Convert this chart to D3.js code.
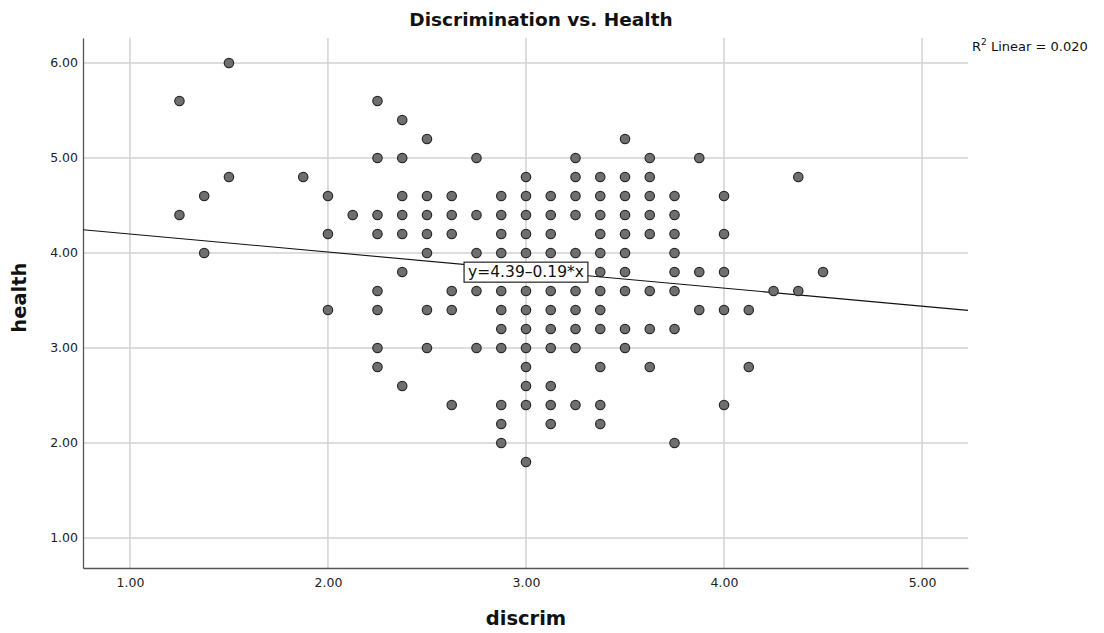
<!DOCTYPE html>
<html>
<head>
<meta charset="utf-8">
<script src="https://cdn.jsdelivr.net/npm/d3@7"></script>
<style>
  body { margin: 0; background: #fff; }
  svg { display: block; font-family: "DejaVu Sans", sans-serif; }
</style>
</head>
<body>
<svg id="chart"></svg>
<script>
// discrim levels (columns) and the health values observed at each
const discrimLevels = [1.25, 1.375, 1.5, 1.875, 2.0, 2.125, 2.25, 2.375, 2.5, 2.625, 2.75, 2.875,
  3.0, 3.125, 3.25, 3.375, 3.5, 3.625, 3.75, 3.875, 4.0, 4.125, 4.25, 4.375, 4.5];
const healthByLevel = [
  [5.6, 4.4],
  [4.6, 4.0],
  [6.0, 4.8],
  [4.8],
  [4.6, 4.2, 3.4],
  [4.4],
  [5.6, 5.0, 4.4, 4.2, 3.6, 3.4, 3.0, 2.8],
  [5.4, 5.0, 4.6, 4.4, 4.2, 3.8, 2.6],
  [5.2, 4.6, 4.4, 4.2, 4.0, 3.4, 3.0],
  [4.6, 4.4, 4.2, 3.6, 3.4, 2.4],
  [5.0, 4.4, 4.0, 3.8, 3.6, 3.0],
  [4.6, 4.4, 4.2, 4.0, 3.8, 3.6, 3.4, 3.2, 3.0, 2.4, 2.2, 2.0],
  [4.8, 4.6, 4.4, 4.2, 4.0, 3.8, 3.6, 3.4, 3.2, 3.0, 2.8, 2.6, 2.4, 1.8],
  [4.6, 4.4, 4.2, 4.0, 3.8, 3.6, 3.4, 3.2, 3.0, 2.6, 2.4, 2.2],
  [5.0, 4.8, 4.6, 4.4, 4.0, 3.8, 3.6, 3.4, 3.2, 3.0, 2.4],
  [4.8, 4.6, 4.4, 4.2, 4.0, 3.8, 3.6, 3.4, 3.2, 2.8, 2.4, 2.2],
  [5.2, 4.8, 4.6, 4.4, 4.2, 4.0, 3.8, 3.6, 3.2, 3.0],
  [5.0, 4.8, 4.6, 4.4, 4.2, 3.6, 3.2, 2.8],
  [4.6, 4.4, 4.2, 4.0, 3.8, 3.6, 3.2, 2.0],
  [5.0, 3.8, 3.4],
  [4.6, 4.2, 3.8, 3.4, 2.4],
  [3.4, 2.8],
  [3.6],
  [4.8, 3.6],
  [3.8]
];

const xTicks = [1, 2, 3, 4, 5];
const yTicks = [1, 2, 3, 4, 5, 6];

const fitIntercept = 4.39,
  fitSlope = -0.19,
  fitLabelAt = 3.0,
  rSquared = '0.020';

const chartTitle = 'Discrimination vs. Health',
  xTitle = 'discrim',
  yTitle = 'health';

const actualWidth = 1104, actualHeight = 633;
const margin = {top: 38, right: 136, bottom: 65, left: 83};
const width = actualWidth - margin.left - margin.right,
  height = actualHeight - margin.top - margin.bottom;

const points = [];
discrimLevels.forEach((d, i) => {
  healthByLevel[i].forEach(h => points.push({x: d, y: h}));
});

const xScale = d3.scaleLinear().domain([0.763, 5.232]).range([0, width]);
const yScale = d3.scaleLinear().domain([0.684, 6.263]).range([height, 0]);

const svg = d3.select('#chart')
  .attr('width', actualWidth)
  .attr('height', actualHeight);

const chart = svg.append('g')
  .attr('transform', `translate(${margin.left}, ${margin.top})`);

// grid lines
chart.append('g')
  .selectAll('line')
  .data(xTicks).enter().append('line')
  .attr('x1', d => xScale(d)).attr('x2', d => xScale(d))
  .attr('y1', 0).attr('y2', height)
  .attr('stroke', '#d2d2d2').attr('stroke-width', 1.5);

chart.append('g')
  .selectAll('line')
  .data(yTicks).enter().append('line')
  .attr('x1', 0).attr('x2', width)
  .attr('y1', d => yScale(d)).attr('y2', d => yScale(d))
  .attr('stroke', '#d2d2d2').attr('stroke-width', 1.5);

// axes
const xAxis = d3.axisBottom(xScale).tickValues(xTicks).tickFormat(d3.format('.2f')).tickSize(0).tickPadding(10);
const yAxis = d3.axisLeft(yScale).tickValues(yTicks).tickFormat(d3.format('.2f')).tickSize(0).tickPadding(5);

const xAxisGroup = chart.append('g')
  .attr('transform', `translate(0, ${height})`)
  .call(xAxis);
const yAxisGroup = chart.append('g').call(yAxis);

[xAxisGroup, yAxisGroup].forEach(g => {
  g.select('.domain').attr('stroke', '#555').attr('stroke-width', 1.3);
  g.selectAll('text').attr('font-size', 12.5).attr('fill', '#222')
    .attr('font-family', '"DejaVu Sans", sans-serif');
});

// fit line
const fit = x => fitIntercept + fitSlope * x;
const [x0, x1] = xScale.domain();
chart.append('line')
  .attr('x1', xScale(x0)).attr('y1', yScale(fit(x0)))
  .attr('x2', xScale(x1)).attr('y2', yScale(fit(x1)))
  .attr('stroke', '#111').attr('stroke-width', 1.1);

// points
chart.append('g')
  .selectAll('circle')
  .data(points).enter().append('circle')
  .attr('cx', d => xScale(d.x))
  .attr('cy', d => yScale(d.y))
  .attr('r', 4.7)
  .attr('fill', '#6f6f6f')
  .attr('stroke', '#2a2a2a')
  .attr('stroke-width', 1.2);

// fit label
const labelG = chart.append('g')
  .attr('transform', `translate(${xScale(fitLabelAt)}, ${yScale(fit(fitLabelAt)) + 1.5})`);
const labelRect = labelG.append('rect');
const labelText = labelG.append('text')
  .attr('text-anchor', 'middle')
  .attr('dy', '0.36em')
  .attr('font-size', 15.5)
  .attr('fill', '#111')
  .text(`y=${fitIntercept}\u2013${Math.abs(fitSlope)}*x`);
const bb = labelText.node().getBBox();
labelRect
  .attr('x', bb.x - 4).attr('y', bb.y - 1)
  .attr('width', bb.width + 8).attr('height', bb.height + 2)
  .attr('fill', '#fff').attr('stroke', '#222').attr('stroke-width', 1.2);

// titles
svg.append('text')
  .attr('x', 541).attr('y', 26)
  .attr('text-anchor', 'middle')
  .attr('font-size', 18.5).attr('font-weight', 'bold').attr('fill', '#111')
  .text(chartTitle);

svg.append('text')
  .attr('x', margin.left + xScale(3)).attr('y', 625)
  .attr('text-anchor', 'middle')
  .attr('font-size', 19.5).attr('font-weight', 'bold').attr('fill', '#111')
  .text(xTitle);

svg.append('text')
  .attr('transform', `translate(26, ${margin.top + yScale(3.53)}) rotate(-90)`)
  .attr('text-anchor', 'middle')
  .attr('font-size', 19.5).attr('font-weight', 'bold').attr('fill', '#111')
  .text(yTitle);

const r2 = svg.append('text')
  .attr('x', 972).attr('y', 51)
  .attr('font-size', 13).attr('fill', '#111');
r2.append('tspan').text('R');
r2.append('tspan').attr('font-size', 9).attr('dy', -6).text('2');
r2.append('tspan').attr('dy', 6).text(` Linear = ${rSquared}`);
</script>
</body>
</html>
